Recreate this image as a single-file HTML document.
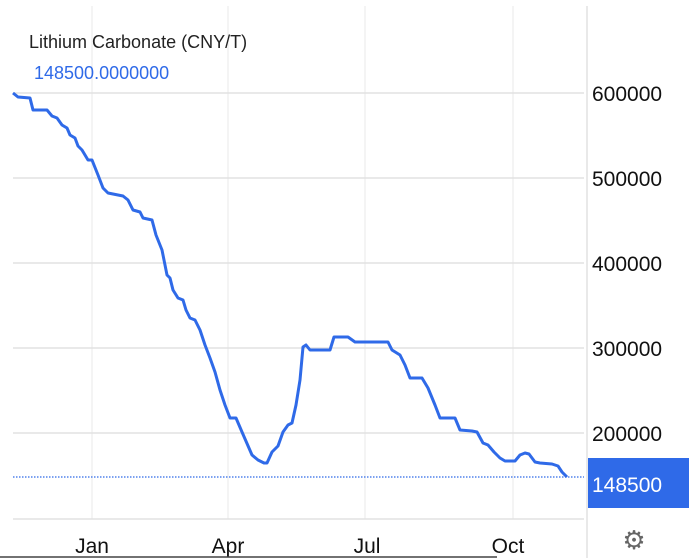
<!DOCTYPE html>
<html><head><meta charset="utf-8"><style>
html,body{margin:0;padding:0;background:#fff;}
body{width:689px;height:558px;overflow:hidden;position:relative;font-family:"Liberation Sans",sans-serif;}
</style></head><body>
<svg width="689" height="558" xmlns="http://www.w3.org/2000/svg" style="position:absolute;left:0;top:0">
<g stroke="#f0f0f0" stroke-width="1.5">
<line x1="92" y1="6" x2="92" y2="519"/>
<line x1="228" y1="6" x2="228" y2="519"/>
<line x1="365" y1="6" x2="365" y2="519"/>
<line x1="513" y1="6" x2="513" y2="519"/>
</g>
<g stroke="#e2e2e2" stroke-width="1.5">
<line x1="13" y1="93" x2="584" y2="93"/>
<line x1="13" y1="178" x2="584" y2="178"/>
<line x1="13" y1="263" x2="584" y2="263"/>
<line x1="13" y1="348" x2="584" y2="348"/>
<line x1="13" y1="433" x2="584" y2="433"/>
<line x1="13" y1="519" x2="584" y2="519"/>
<line x1="587" y1="6" x2="587" y2="558"/>
</g>
<line x1="13" y1="477" x2="584" y2="477" stroke="#2f6ae8" stroke-width="1.3" stroke-dasharray="1.5,1.5"/>
<polyline fill="none" stroke="#2f6ae8" stroke-width="3" stroke-linejoin="round" points="13,93 18,97 30,98 33,110 47,110 52,116 57,118 62,125 67,128 70,135 75,138 78,146 82,150 88,160 92,160 98,175 103,188 108,193 118,195 123,196 128,200 133,210 140,212 143,218 152,220 156,235 162,250 167,275 170,278 173,290 178,298 183,300 186,310 190,318 195,320 200,330 205,345 210,358 215,372 220,390 225,405 230,418 236,418 242,432 252,455 258,460 264,463 267,463 272,452 278,446 283,432 288,425 292,423 296,405 300,380 303,347 306,345 310,350 330,350 334,337 348,337 355,342 388,342 392,350 400,355 405,365 410,378 422,378 428,388 435,405 440,418 455,418 460,430 472,431 477,432 483,443 488,445 494,452 500,458 505,461 515,461 520,455 525,453 529,454 535,462 540,463 552,464 558,466 562,472 567,477"/>
<rect x="588" y="458" width="101" height="50" fill="#2f6ae8"/>
<g font-family="Liberation Sans, sans-serif">
<text x="29" y="48" font-size="18" fill="#222">Lithium Carbonate (CNY/T)</text>
<text x="34" y="79" font-size="18" fill="#2f6ae8">148500.0000000</text>
<g font-size="21" fill="#111">
<text x="592" y="101">600000</text>
<text x="592" y="186">500000</text>
<text x="592" y="271">400000</text>
<text x="592" y="356">300000</text>
<text x="592" y="441">200000</text>
<text x="92" y="553" text-anchor="middle">Jan</text>
<text x="228" y="553" text-anchor="middle">Apr</text>
<text x="367" y="553" text-anchor="middle">Jul</text>
<text x="508" y="553" text-anchor="middle">Oct</text>
</g>
<text x="592" y="492" font-size="21" fill="#fff">148500</text>
<text x="634" y="549" font-size="26" fill="#666" text-anchor="middle">⚙</text>
</g>
<line x1="0" y1="557" x2="497" y2="557" stroke="#444" stroke-width="1.5"/>
</svg>
</body></html>
